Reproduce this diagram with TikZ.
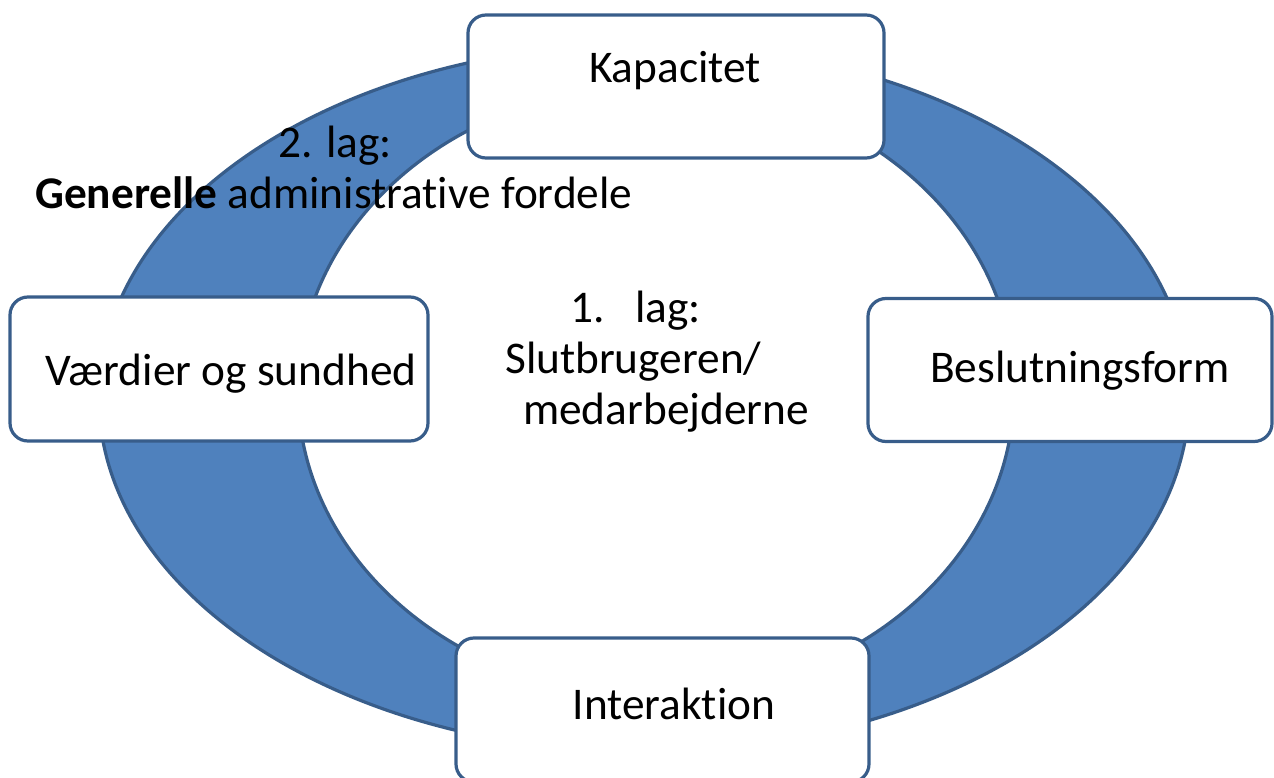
\documentclass[tikz,border=0pt]{standalone}
\usepackage{fontspec}
\setmainfont{Carlito}[Ligatures=NoCommon]
\definecolor{ringfill}{HTML}{4F81BD}
\definecolor{ringline}{HTML}{385D8A}
\tikzset{
  boxnode/.style={draw=ringline, line width=3.2bp, fill=white, rounded corners=18bp, inner sep=0pt},
  txt/.style={font=\fontsize{45.5}{51}\selectfont, inner sep=0pt, text=black},
}
\begin{document}
\begin{tikzpicture}[x=1bp,y=-1bp]
\useasboundingbox (0,0) rectangle (1274,778);
% ring
\fill[ringfill, even odd rule] (644,398) ellipse [x radius=545, y radius=354]
  (656,391) ellipse [x radius=358, y radius=306];
\draw[ringline, line width=3.2bp] (644,398) ellipse [x radius=545, y radius=354];
\draw[ringline, line width=3.2bp] (656,391) ellipse [x radius=358, y radius=306];
% layer texts
\node[txt, anchor=base west] (lag2) at (278,157) {2. lag:};
\node[txt, anchor=base west] (gen) at (35,208) {\textbf{Generelle} administrative fordele};
\node[txt, anchor=base west] (lag1num) at (570,322) {1.};
\node[txt, anchor=base west] (lag1) at (635,322) {lag:};
\node[txt, anchor=base west] (slut) at (505,373) {Slutbrugeren/};
\node[txt, anchor=base west] (med) at (523,424) {medarbejderne};
% boxes
\node[boxnode, minimum width=416bp, minimum height=143bp] (kap) at (676,86.5) {};
\node[boxnode, minimum width=418bp, minimum height=144bp] (vaer) at (219,369) {};
\node[boxnode, minimum width=404bp, minimum height=143bp] (besl) at (1070,370) {};
\node[boxnode, minimum width=413bp, minimum height=144bp] (inter) at (662.5,710) {};
\node[txt, anchor=base] (kapt) at (675,83) {Kapacitet};
\node[txt, anchor=base] (vaert) at (231,385) {Værdier og sundhed};
\node[txt, anchor=base] (beslt) at (1080,382) {Beslutningsform};
\node[txt, anchor=base] (intert) at (674,719) {Interaktion};
\end{tikzpicture}
\end{document}
